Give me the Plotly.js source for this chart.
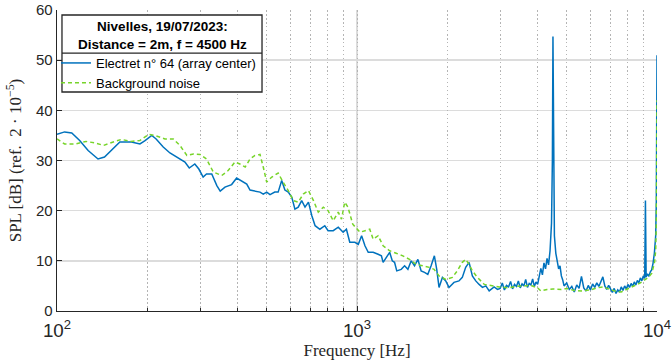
<!DOCTYPE html>
<html>
<head>
<meta charset="utf-8">
<script src="https://cdn.plot.ly/plotly-3.0.1.min.js"></script>
<style>html,body{margin:0;padding:0;background:#fff;}#chart{width:672px;height:361px;}</style>
</head>
<body>
<div id="chart"></div>
<script>
// Electret n° 64 (array center) — frequency [Hz] and SPL [dB]
const electretFreq = [100,106,112,119,127,137,144,154,162,177,189,196,207,214,226,238,257,267,276,288,297,307,315,328,341,350,363,382,397,412,429,440,457,475,487,500,513,532,546,561,575,590,606,621,637,654,671,689,707,725,752,781,801,833,866,899,922,946,984,1010,1036,1063,1090,1132,1176,1206,1222,1253,1285,1311,1334,1357,1404,1441,1478,1516,1555,1596,1636,1679,1722,1766,1811,1844,1877,1926,1976,2026,2105,2187,2244,2303,2364,2424,2488,2553,2620,2688,2758,2864,2940,
  3000,3050,3100,3150,3200,3250,3300,3350,3400,3450,3500,3550,3600,3650,3700,3750,3800,3850,3900,3950,4000,4050,4100,4150,4200,4250,4300,4350,4400,4450,4480,4500,4520,4550,4600,4650,4700,4750,4800,4850,4900,5000,5100,5200,5300,5400,5500,5600,5700,5800,5900,6000,6100,6200,6300,6400,6500,6600,6700,6800,6900,7000,7100,7200,7300,7400,7500,7600,7700,7800,7900,8000,8100,8200,8300,8400,8500,8600,8700,8800,8900,9000,9100,9150,9200,9300,9400,9500,9600,9700,9800,9900,9950,10000];
const electretSPL = [35.2,35.7,35.5,34,32,30.3,30.7,32.3,33.7,33.7,33.3,33.9,35,34.3,32.7,31.5,30.3,29.7,28.5,29.3,28.3,26.7,27.3,27.3,25,23.9,24.7,25.2,26.5,25.9,25.3,24.1,23.9,23.7,23.3,23.7,23.2,23.7,23.7,26,24.1,23.7,22.7,20.3,20.7,22,20.7,21.7,19,17,16.3,17,16,16,16.7,15.7,16.3,13.7,13.7,13.3,15,13,11.7,11.7,11.3,11,9.7,10.7,11.7,10,9.7,8,8.3,9,8.3,10,9,10.3,8,7.7,7.3,9,11,8.3,4.7,6.7,6,4.7,5.7,6,6.7,8.7,9.7,7,6,5.3,4.7,5,4,4.8,4.3,
  4.5,5.6,4.2,5.1,4.8,5.9,4.4,5.3,4.9,6.0,4.6,5.4,5.0,6.3,4.7,5.5,5.2,6.4,4.9,5.8,5.3,6.8,8.5,7.2,9.6,8.4,10.5,9.2,12.0,17.5,30,54.7,28,15,11.5,9.8,8.4,9.0,7.0,6.2,5.0,5.6,4.3,4.9,3.8,5.2,4.5,6.9,4.6,4.0,5.1,4.2,5.4,4.7,5.6,4.9,5.8,6.8,5.0,4.3,5.1,4.4,3.7,4.5,3.5,4.2,3.8,4.8,4.1,5.0,4.4,5.3,4.7,5.5,4.9,5.8,5.2,6.1,5.6,6.6,6.0,7.0,6.5,22,6.8,7.4,6.9,7.8,8.2,9.5,11.5,15,22,51];

// Background noise — frequency [Hz] and SPL [dB]
const noiseFreq = [100,106,115,125,134,143,154,164,177,189,202,212,229,244,257,271,285,300,315,332,354,372,392,407,424,440,457,475,487,500,520,546,567,590,614,637,662,689,716,743,772,801,833,866,888,910,933,968,1023,1063,1103,1132,1176,1222,1285,1351,1422,1496,1574,1655,1742,1807,1877,1976,2079,2159,2244,2303,2364,2424,2520,2657,2832,2982,3200,3400,3600,3800,4000,4100,4300,4500,4800,5000,5300,5600,6000,6300,6600,7000,7300,7600,8000,8400,8800,9100,9400,9600,9800,9900,9950,10000];
const noiseSPL = [34.3,33.3,33.3,33.8,33.5,33,33.7,34.2,33.8,34,35.2,35,34.3,34.3,33,31,31.3,31.2,30.3,27.7,27,28,29.7,29.3,28.7,30.3,31,31.2,28.7,25.7,26.7,27.5,25.7,24,22,21.7,23.3,24,22,19.7,20.7,20,18,19.7,18.3,21.7,20.7,17.3,15.7,16,16.3,14.3,15,13,12,11.5,11,10.3,9.3,9,8.7,8.3,7,6.3,6.7,8,9.7,10.3,9.3,8,6.7,5.3,5,4.8,4.6,4.9,5.0,5.1,4.6,4.0,4.3,4.4,4.3,4.5,4.1,4.0,4.2,4.6,4.8,4.3,3.9,3.8,4.4,4.9,5.6,6.2,6.8,7.5,9.5,12,18,42];

const seriesNames = ['Electret n° 64 (array center)', 'Background noise'];
const boxTitle = ['Nivelles, 19/07/2023:', 'Distance = 2m, f = 4500 Hz'];
const yTicks = [0,10,20,30,40,50,60];

const sans = 'Liberation Sans, Arial, sans-serif';
const serif = 'Liberation Serif, Times New Roman, serif';

const traces = [
  {x: electretFreq, y: electretSPL, name: seriesNames[0], type: 'scatter', mode: 'lines',
   line: {color: '#0072BD', width: 1.5}},
  {x: noiseFreq, y: noiseSPL, name: seriesNames[1], type: 'scatter', mode: 'lines',
   line: {color: '#77D42A', width: 1.5, dash: '4px,3px'}},
  // invisible trace to activate the overlay axis that carries the minor grid
  {x: [100, 10000], y: [0, 0], xaxis: 'x2', yaxis: 'y', mode: 'none', showlegend: false, hoverinfo: 'skip'}
];

const layout = {
  width: 672, height: 361,
  margin: {l: 57, r: 15, t: 10, b: 50},
  paper_bgcolor: '#fff', plot_bgcolor: '#fff',
  showlegend: true,
  font: {family: sans, size: 13, color: '#262626'},
  xaxis: {
    type: 'log', range: [2, 4], dtick: 1, exponentformat: 'power',
    showline: true, linecolor: '#262626', linewidth: 1.3,
    ticks: 'inside', ticklen: 5, tickcolor: '#262626', ticklabelstandoff: 3,
    showgrid: true, gridcolor: '#DCDCDC', gridwidth: 1.3,
    zeroline: false, tickfont: {family: sans, size: 15, color: '#262626'},
    title: {text: 'Frequency [Hz]', font: {family: serif, size: 17, color: '#262626'}, standoff: 3}
  },
  xaxis2: {
    type: 'log', range: [2, 4], dtick: 'D1', overlaying: 'x',
    showticklabels: false, ticks: 'inside', ticklen: 3, tickcolor: '#262626',
    showgrid: true, gridcolor: '#B4B4B4', griddash: '1.5px,2.5px', gridwidth: 1,
    showline: false, zeroline: false
  },
  yaxis: {
    range: [0, 60], tickvals: yTicks,
    showline: true, linecolor: '#262626', linewidth: 1.3,
    ticks: 'inside', ticklen: 5, tickcolor: '#262626',
    showgrid: true, gridcolor: '#DCDCDC', gridwidth: 1.5,
    zeroline: false, tickfont: {family: sans, size: 15, color: '#262626'},
    title: {text: 'SPL [dB] (ref.  2 · 10<sup>−5</sup>)', font: {family: serif, size: 17, color: '#262626'}, standoff: 10}
  },
  legend: {
    x: -0.0017, y: 0.8738, xanchor: 'left', yanchor: 'top',
    bgcolor: 'rgba(0,0,0,0)', borderwidth: 0,
    font: {family: sans, size: 13, color: '#000'},
    itemwidth: 30, tracegroupgap: 0
  },
  shapes: [
    {type: 'rect', xref: 'paper', yref: 'paper', x0: 0.0083, x1: 0.3417, y0: 0.7276, y1: 0.9834,
     fillcolor: '#fff', line: {color: '#262626', width: 1.3}, layer: 'above'},
    {type: 'line', xref: 'paper', yref: 'paper', x0: 0.0083, x1: 0.3417, y0: 0.857, y1: 0.857,
     line: {color: '#262626', width: 1.3}, layer: 'above'}
  ],
  annotations: [
    {xref: 'paper', yref: 'paper', x: 0.175, y: 0.9153, xanchor: 'center', yanchor: 'middle',
     showarrow: false, align: 'center',
     text: '<b>' + boxTitle[0] + '<br>' + boxTitle[1] + '</b>',
     font: {family: sans, size: 13.5, color: '#000'}}
  ]
};

Plotly.newPlot('chart', traces, layout, {displayModeBar: false, staticPlot: true});
</script>
</body>
</html>
